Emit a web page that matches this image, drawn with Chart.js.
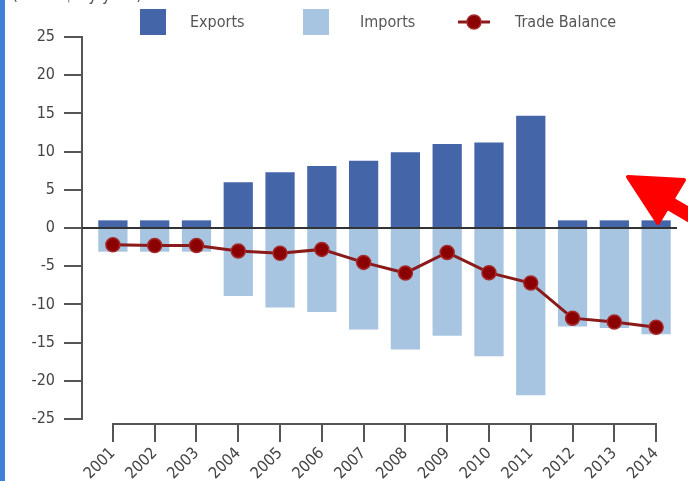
<!DOCTYPE html>
<html>
<head>
<meta charset="utf-8">
<script src="https://cdn.jsdelivr.net/npm/chart.js@4"></script>
<style>
  html, body { margin: 0; padding: 0; background: #fff; overflow: hidden; }
  body { width: 688px; height: 481px; position: relative; font-family: "DejaVu Sans", sans-serif; font-stretch: condensed; }
  #wrap { position: absolute; left: 0; top: 0; width: 695px; height: 481px; }
  #strip { position: absolute; left: 0; top: 0; width: 5px; height: 481px; background: #3f80d8; }
  #title { position: absolute; left: 12px; top: -15px; font-size: 17px; line-height: 18px; color: #555; white-space: nowrap; }
  .lg { position: absolute; font-size: 16px; line-height: 20px; color: #555; top: 12px; }
  .box { position: absolute; top: 9px; width: 26px; height: 26px; }
  #arrow { position: absolute; left: 0; top: 0; }
</style>
</head>
<body>
<div id="wrap"><canvas id="tradeChart"></canvas></div>
<div id="strip"></div>
<div id="title">(Bn US$ by year)</div>

<div class="box" style="left:140px;background:#4565a9"></div>
<div class="lg" style="left:190px">Exports</div>
<div class="box" style="left:303px;background:#a7c4e0"></div>
<div class="lg" style="left:360px">Imports</div>
<svg style="position:absolute;left:455px;top:12px" width="40" height="20">
  <line x1="3" y1="10" x2="35" y2="10" stroke="#8b1a1a" stroke-width="3"/>
  <circle cx="19" cy="10" r="7" fill="#8b0000" stroke="#a52a2a" stroke-width="1.5"/>
</svg>
<div class="lg" style="left:515px">Trade Balance</div>

<svg id="arrow" width="688" height="481">
  <line x1="650" y1="192" x2="705" y2="224" stroke="#ff0000" stroke-width="14" stroke-linecap="round"/>
  <polygon points="628,177 684,180 658,223" fill="#ff0000" stroke="#ff0000" stroke-width="4" stroke-linejoin="round"/>
</svg>

<script>
  // 年份与数据（单位：十亿美元）
  const years = ['2001', '2002', '2003', '2004', '2005', '2006', '2007',
                 '2008', '2009', '2010', '2011', '2012', '2013', '2014'];
  const exportsData = [1.0, 1.0, 1.0, 6.0, 7.3, 8.1, 8.8, 9.9, 11.0, 11.2, 14.7, 1.0, 1.0, 1.0];
  const importsData = [-3.1, -3.1, -3.1, -8.9, -10.4, -11.0, -13.3, -15.9, -14.1, -16.8, -21.9, -12.9, -13.1, -13.9];
  const balanceData = [-2.2, -2.3, -2.3, -3.0, -3.3, -2.8, -4.5, -5.9, -3.2, -5.85, -7.2, -11.8, -12.3, -13.0];
  const yTicks = [25, 20, 15, 10, 5, 0, -5, -10, -15, -20, -25];

  // 'normal condensed' 让画布字体使用窄体
  const axisFont = { family: '"DejaVu Sans", sans-serif', size: 16, weight: 'normal condensed' };

  // 手绘坐标轴线、刻度和零线
  const axisPlugin = {
    id: 'axisLines',
    afterDatasetsDraw(chart) {
      const { ctx, scales: { x, y } } = chart;
      const yTop = y.getPixelForValue(25);
      const yBot = y.getPixelForValue(-25);
      const axisX = x.left - 10;
      ctx.save();
      ctx.strokeStyle = '#555';
      ctx.lineWidth = 2;
      ctx.beginPath();
      ctx.moveTo(axisX, yTop);
      ctx.lineTo(axisX, yBot);
      yTicks.forEach(v => {
        const py = Math.round(y.getPixelForValue(v));
        ctx.moveTo(axisX - 18, py);
        ctx.lineTo(axisX + 1, py);
      });
      ctx.stroke();

      // 零线
      ctx.strokeStyle = '#333';
      ctx.beginPath();
      const zy = Math.round(y.getPixelForValue(0));
      ctx.moveTo(axisX, zy);
      ctx.lineTo(x.right, zy);
      ctx.stroke();

      // x 轴
      const lineY = yBot + 5;
      const first = x.getPixelForValue(0);
      const last = x.getPixelForValue(years.length - 1);
      ctx.strokeStyle = '#555';
      ctx.beginPath();
      ctx.moveTo(first, lineY);
      ctx.lineTo(last, lineY);
      years.forEach((yr, i) => {
        const px = Math.round(x.getPixelForValue(i));
        ctx.moveTo(px, lineY - 1);
        ctx.lineTo(px, lineY + 18);
      });
      ctx.stroke();
      ctx.restore();
    }
  };

  const ctx = document.getElementById('tradeChart').getContext('2d');
  new Chart(ctx, {
    data: {
      labels: years,
      datasets: [
        {
          type: 'line',
          label: 'Trade Balance',
          data: balanceData,
          stack: 'balance',
          borderColor: '#8b1a1a',
          borderWidth: 3,
          pointRadius: 7,
          pointBackgroundColor: '#8b0000',
          pointBorderColor: '#a52a2a',
          pointBorderWidth: 1.5,
          tension: 0,
          order: 0
        },
        {
          type: 'bar',
          label: 'Exports',
          data: exportsData,
          stack: 'trade',
          backgroundColor: '#4565a9',
          barPercentage: 0.7,
          categoryPercentage: 1,
          order: 1
        },
        {
          type: 'bar',
          label: 'Imports',
          data: importsData,
          stack: 'trade',
          backgroundColor: '#a7c4e0',
          barPercentage: 0.7,
          categoryPercentage: 1,
          order: 2
        }
      ]
    },
    options: {
      responsive: true,
      maintainAspectRatio: false,
      animation: false,
      layout: { padding: { top: 37, right: 0, bottom: 0, left: 0 } },
      plugins: {
        legend: { display: false },
        tooltip: { enabled: false }
      },
      scales: {
        x: {
          stacked: true,
          offset: true,
          border: { display: false },
          grid: { display: false, drawTicks: false },
          ticks: {
            color: '#444',
            font: axisFont,
            minRotation: 45,
            maxRotation: 45,
            padding: 25,
            autoSkip: false
          },
          afterFit(scale) { scale.height = 62; }
        },
        y: {
          stacked: true,
          min: -25,
          max: 25,
          border: { display: false },
          grid: { display: false, drawTicks: false },
          ticks: {
            stepSize: 5,
            color: '#444',
            font: axisFont,
            padding: 37
          },
          afterFit(scale) {
            scale.width = 92;
            scale.paddingTop = 0;
            scale.paddingBottom = 0;
          }
        }
      }
    },
    plugins: [axisPlugin]
  });
</script>
</body>
</html>
